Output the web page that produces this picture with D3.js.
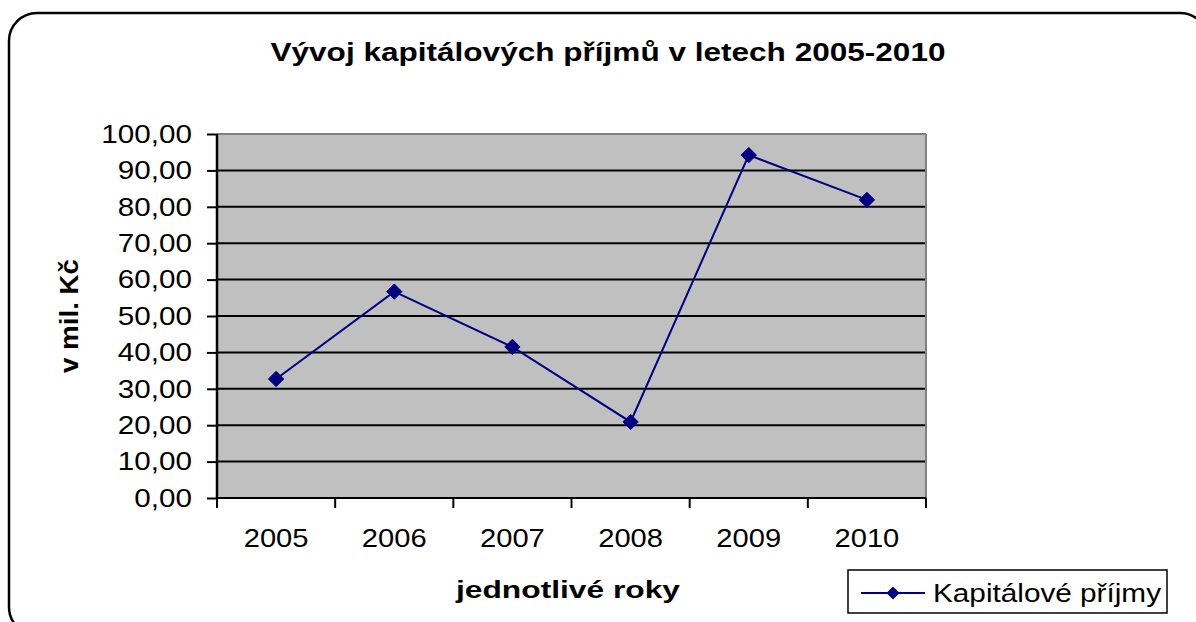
<!DOCTYPE html>
<html>
<head>
<meta charset="utf-8">
<script src="https://cdn.jsdelivr.net/npm/d3@7"></script>
<style>
  html, body { margin: 0; padding: 0; background: #fff; }
  svg { display: block; font-family: "Liberation Sans", Arial, sans-serif; }
</style>
</head>
<body>
<div id="chart"></div>
<script>
// Chart data
const years = ["2005", "2006", "2007", "2008", "2009", "2010"];
const values = [32.7, 56.7, 41.5, 20.9, 94.2, 81.9];
const yTicks = [0, 10, 20, 30, 40, 50, 60, 70, 80, 90, 100];
const seriesName = "Kapitálové příjmy";
const titleText = "Vývoj kapitálových příjmů v letech 2005-2010";
const xTitle = "jednotlivé roky";
const yTitle = "v mil. Kč";

const W = 1196, H = 622;
const margin = { top: 134, right: 270, bottom: 124, left: 217 };
const width = W - margin.left - margin.right;   // 709
const height = H - margin.top - margin.bottom;  // 364

// widen text a little (the original font renders wider than Liberation Sans)
function stretch(sel, k) {
    sel.each(function() {
        const len = this.getComputedTextLength();
        d3.select(this)
            .attr("textLength", len * k)
            .attr("lengthAdjust", "spacingAndGlyphs");
    });
}

const svg = d3.select("#chart")
    .append("svg")
    .attr("width", W)
    .attr("height", H);

// Outer rounded frame
svg.append("rect")
    .attr("x", 9).attr("y", 13)
    .attr("width", 1199).attr("height", 622)
    .attr("rx", 28).attr("ry", 28)
    .attr("fill", "#fff")
    .attr("stroke", "#000")
    .attr("stroke-width", 2.5);

// Title
svg.append("text")
    .attr("x", 608)
    .attr("y", 61)
    .attr("text-anchor", "middle")
    .attr("font-size", "26px")
    .attr("font-weight", "bold")
    .attr("textLength", 675)
    .attr("lengthAdjust", "spacingAndGlyphs")
    .text(titleText);

const g = svg.append("g")
    .attr("transform", `translate(${margin.left},${margin.top})`);

const x = d3.scaleBand()
    .domain(years)
    .range([0, width]);

const y = d3.scaleLinear()
    .domain([0, 100])
    .range([height, 0]);

// Plot background
g.append("rect")
    .attr("width", width)
    .attr("height", height)
    .attr("fill", "#c0c0c0");

// Gridlines
g.selectAll(".grid")
    .data(yTicks.filter(d => d > 0))
    .enter()
    .append("line")
    .attr("x1", 0)
    .attr("x2", width)
    .attr("y1", d => y(d))
    .attr("y2", d => y(d))
    .attr("stroke", d => d === 100 ? "#808080" : "#000")
    .attr("stroke-width", 2);

// Right border of plot
g.append("line")
    .attr("x1", width).attr("x2", width)
    .attr("y1", 0).attr("y2", height)
    .attr("stroke", "#808080")
    .attr("stroke-width", 2);

// Y axis
const yAxis = g.append("g")
    .call(d3.axisLeft(y)
        .tickValues(yTicks)
        .tickSize(10)
        .tickPadding(15)
        .tickFormat(d => d3.format(".2f")(d).replace(".", ",")));
yAxis.select(".domain").attr("stroke", "#000").attr("stroke-width", 2.5)
    .attr("d", `M0,0V${height}`);
yAxis.selectAll(".tick line").attr("stroke", "#000").attr("stroke-width", 2);
yAxis.selectAll(".tick text")
    .attr("font-size", "26px")
    .attr("font-family", "Liberation Sans, Arial, sans-serif")
    .attr("fill", "#000")
    .call(stretch, 1.14);

// X axis
const xAxis = g.append("g")
    .attr("transform", `translate(0,${height})`)
    .call(d3.axisBottom(x).tickSize(0).tickPadding(31));
xAxis.select(".domain").attr("stroke", "#000").attr("stroke-width", 2)
    .attr("d", `M0,0H${width}`);
xAxis.selectAll(".tick text")
    .attr("font-size", "26px")
    .attr("font-family", "Liberation Sans, Arial, sans-serif")
    .attr("fill", "#000")
    .call(stretch, 1.12);

// Category boundary ticks
const bounds = years.map(d => x(d)).concat([width]);
xAxis.selectAll(".bound")
    .data(bounds)
    .enter()
    .append("line")
    .attr("x1", d => d).attr("x2", d => d)
    .attr("y1", 0).attr("y2", 10)
    .attr("stroke", "#000")
    .attr("stroke-width", 2);

// Axis titles
svg.append("text")
    .attr("x", 568)
    .attr("y", 598)
    .attr("text-anchor", "middle")
    .attr("font-size", "23px")
    .attr("font-weight", "bold")
    .attr("textLength", 224)
    .attr("lengthAdjust", "spacingAndGlyphs")
    .text(xTitle);

svg.append("text")
    .attr("transform", "translate(78,316) rotate(-90)")
    .attr("text-anchor", "middle")
    .attr("font-size", "25px")
    .attr("font-weight", "bold")
    .attr("textLength", 114)
    .attr("lengthAdjust", "spacingAndGlyphs")
    .text(yTitle);

// Series line
const line = d3.line()
    .x((d, i) => x(years[i]) + x.bandwidth() / 2)
    .y(d => y(d));

g.append("path")
    .datum(values)
    .attr("fill", "none")
    .attr("stroke", "#000080")
    .attr("stroke-width", 2)
    .attr("d", line);

const diamond = d3.symbol().type(d3.symbolDiamond2).size(150);

g.selectAll(".pt")
    .data(values)
    .enter()
    .append("path")
    .attr("transform", (d, i) => `translate(${x(years[i]) + x.bandwidth() / 2},${y(d)})`)
    .attr("d", diamond)
    .attr("fill", "#000080")
    .attr("stroke", "#000080")
    .attr("stroke-width", 1);

// Legend
const legend = svg.append("g").attr("transform", "translate(848,570)");
legend.append("rect")
    .attr("width", 319).attr("height", 43)
    .attr("fill", "#fff")
    .attr("stroke", "#000")
    .attr("stroke-width", 1.5);
legend.append("line")
    .attr("x1", 13).attr("x2", 77)
    .attr("y1", 23).attr("y2", 23)
    .attr("stroke", "#000080")
    .attr("stroke-width", 2);
legend.append("path")
    .attr("transform", "translate(45,23)")
    .attr("d", d3.symbol().type(d3.symbolDiamond2).size(110))
    .attr("fill", "#000080");
legend.append("text")
    .attr("x", 85)
    .attr("y", 32)
    .attr("font-size", "25px")
    .attr("textLength", 228)
    .attr("lengthAdjust", "spacingAndGlyphs")
    .text(seriesName);
</script>
</body>
</html>
